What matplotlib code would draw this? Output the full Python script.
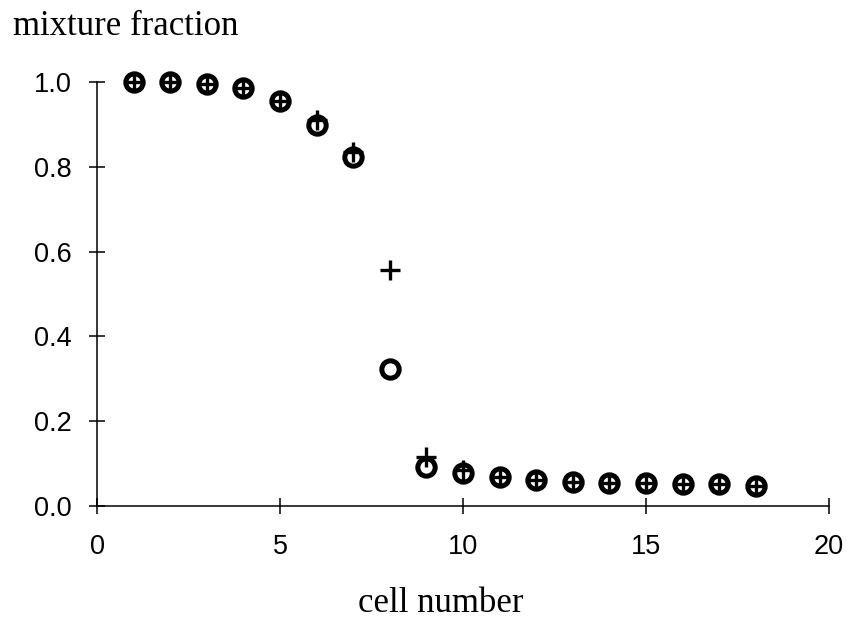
import matplotlib
matplotlib.use('Agg')
import matplotlib.pyplot as plt

# cell index and mixture fraction for the two solutions
cells = [1, 2, 3, 4, 5, 6, 7, 8, 9, 10, 11, 12, 13, 14, 15, 16, 17, 18]
circle_vals = [1.0, 1.0, 0.995, 0.985, 0.955, 0.898, 0.823, 0.323, 0.092, 0.077,
               0.068, 0.061, 0.057, 0.055, 0.054, 0.053, 0.051, 0.047]
plus_vals = [1.0, 1.0, 0.995, 0.985, 0.955, 0.91, 0.835, 0.557, 0.115, 0.085,
             0.068, 0.061, 0.057, 0.055, 0.054, 0.053, 0.051, 0.047]

fig = plt.figure(figsize=(8.48, 6.22), dpi=100)
ax = fig.add_axes([0.1144, 0.1865, 0.8632, 0.6817])

ax.plot(cells, circle_vals, linestyle='none', marker='o', markersize=12.5,
        markerfacecolor='white', markeredgecolor='black', markeredgewidth=3.6,
        clip_on=False, zorder=3)
ax.plot(cells, plus_vals, linestyle='none', marker='+', markersize=14,
        markeredgecolor='black', markeredgewidth=2.4, clip_on=False, zorder=4)

ax.set_xlim(0, 20)
ax.set_ylim(0, 1.0)
ax.set_xticks([0, 5, 10, 15, 20])
ax.set_yticks([0.0, 0.2, 0.4, 0.6, 0.8, 1.0])
ax.set_yticklabels(['0.0', '0.2', '0.4', '0.6', '0.8', '1.0'])

for s in ['top', 'right']:
    ax.spines[s].set_visible(False)
for s in ['left', 'bottom']:
    ax.spines[s].set_linewidth(1.1)

ax.tick_params(axis='both', direction='inout', length=12, width=1.1,
               labelsize=19.5)
ax.tick_params(axis='x', pad=14)
ax.tick_params(axis='y', pad=12)
for lab in ax.get_xticklabels() + ax.get_yticklabels():
    lab.set_family('Liberation Sans')

fig.text(0.015, 0.957, 'mixture fraction', family='Liberation Serif',
         fontsize=25, ha='left', va='center')
fig.text(0.52, 0.03, 'cell number', family='Liberation Serif',
         fontsize=25, ha='center', va='center')

fig.savefig('out.png', dpi=100)
